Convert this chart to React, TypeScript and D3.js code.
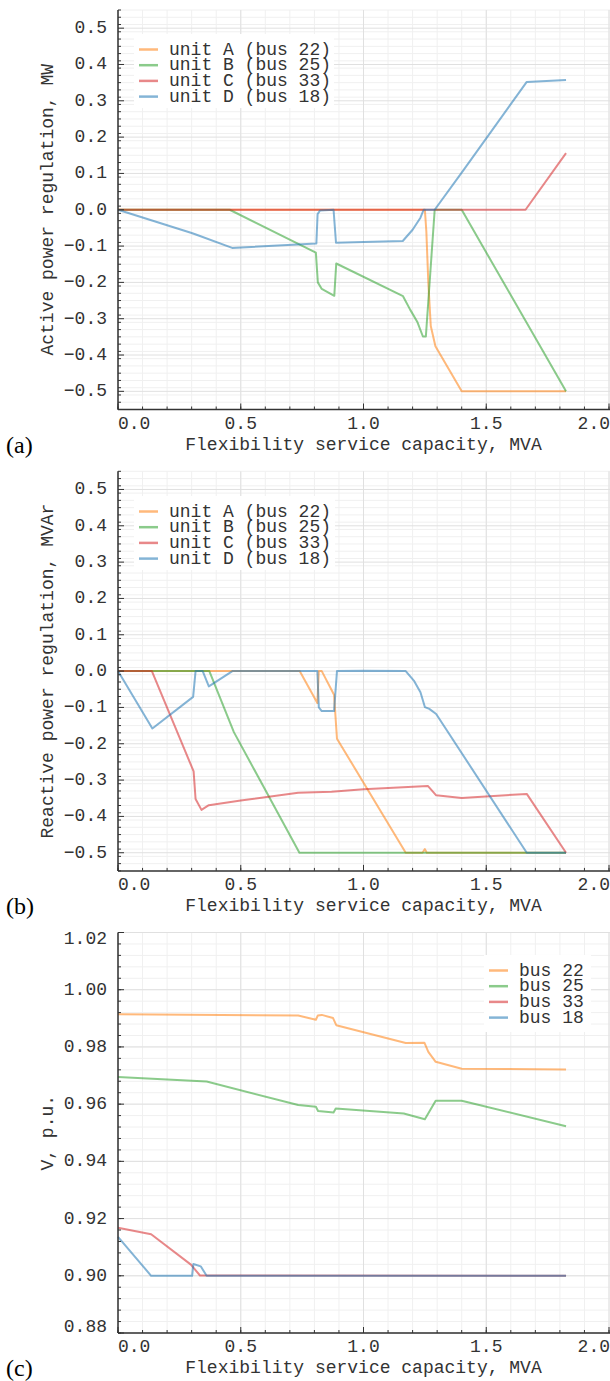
import React from 'react';
import * as d3 from 'd3';

const W = 610;
const H = 1381;
const MONO = "'Liberation Mono', 'Courier New', monospace";
const SERIF = "'Liberation Serif', 'Times New Roman', serif";

// series colours: unit A / bus 22, unit B / bus 25, unit C / bus 33, unit D / bus 18
const seriesColors = ['#ff7f0e', '#2ca02c', '#d62728', '#1f77b4'];

const xTicks = [0, 0.5, 1.0, 1.5, 2.0];
const pqTicks = [-0.5, -0.4, -0.3, -0.2, -0.1, 0, 0.1, 0.2, 0.3, 0.4, 0.5];
const vTicks = [0.88, 0.9, 0.92, 0.94, 0.96, 0.98, 1.0, 1.02];

const unitNames = ['unit A (bus 22)', 'unit B (bus 25)', 'unit C (bus 33)', 'unit D (bus 18)'];
const busNames = ['bus 22', 'bus 25', 'bus 33', 'bus 18'];

// (a) active power regulation, MW
const activeA = [[0, 0], [1.25, 0], [1.256, -0.06], [1.264, -0.2], [1.274, -0.32], [1.293, -0.376], [1.4, -0.5], [1.825, -0.5]];
const activeB = [[0, 0], [0.455, 0], [0.806, -0.118], [0.814, -0.2], [0.83, -0.218], [0.881, -0.237], [0.889, -0.148],
  [1.161, -0.238], [1.19, -0.275], [1.22, -0.31], [1.242, -0.349], [1.254, -0.349], [1.29, 0], [1.4, 0], [1.825, -0.5]];
const activeC = [[0, 0], [1.66, 0], [1.825, 0.156]];
const activeD = [[0, 0], [0.3, -0.064], [0.32, -0.069], [0.465, -0.105], [0.808, -0.093], [0.813, -0.012], [0.823, -0.002],
  [0.878, 0], [0.888, -0.091], [1.0, -0.089], [1.16, -0.086], [1.2, -0.055], [1.232, -0.022], [1.245, 0], [1.29, 0],
  [1.4, 0.102], [1.665, 0.352], [1.825, 0.357]];

// (b) reactive power regulation, MVAr
const reactiveA = [[0, 0], [0.74, 0], [0.812, -0.088], [0.818, 0], [0.83, 0], [0.88, -0.065], [0.892, -0.186],
  [1.172, -0.5], [1.24, -0.5], [1.25, -0.49], [1.258, -0.5], [1.825, -0.5]];
const reactiveB = [[0, 0], [0.372, 0], [0.472, -0.168], [0.739, -0.5], [1.825, -0.5]];
const reactiveC = [[0, 0], [0.138, 0], [0.308, -0.276], [0.316, -0.352], [0.34, -0.382], [0.37, -0.369], [0.5, -0.356],
  [0.734, -0.335], [0.87, -0.332], [1.0, -0.325], [1.262, -0.316], [1.296, -0.342], [1.4, -0.349], [1.665, -0.338],
  [1.825, -0.5]];
const reactiveD = [[0, 0], [0.14, -0.158], [0.306, -0.071], [0.316, 0], [0.345, 0], [0.37, -0.042], [0.466, 0],
  [0.812, 0], [0.818, -0.1], [0.83, -0.11], [0.88, -0.11], [0.892, 0], [1.0, 0.001], [1.172, 0], [1.205, -0.026],
  [1.232, -0.058], [1.25, -0.099], [1.268, -0.104], [1.296, -0.118], [1.665, -0.5], [1.825, -0.5]];

// (c) bus voltage, p.u.
const voltage22 = [[0, 0.9914], [0.734, 0.991], [0.806, 0.9895], [0.814, 0.991], [0.83, 0.9912], [0.876, 0.9901],
  [0.889, 0.9876], [1.172, 0.9814], [1.248, 0.9815], [1.264, 0.9783], [1.294, 0.9748], [1.4, 0.9724], [1.825, 0.9721]];
const voltage25 = [[0, 0.9695], [0.361, 0.9679], [0.734, 0.9597], [0.806, 0.9591], [0.815, 0.9576], [0.878, 0.9571],
  [0.887, 0.9585], [1.164, 0.9567], [1.25, 0.9547], [1.294, 0.9612], [1.4, 0.9612], [1.825, 0.9523]];
const voltage33 = [[0, 0.9168], [0.135, 0.9145], [0.297, 0.9039], [0.334, 0.9001], [1.825, 0.9]];
const voltage18 = [[0, 0.9136], [0.135, 0.9], [0.302, 0.9], [0.307, 0.9041], [0.337, 0.9033], [0.361, 0.9], [1.825, 0.9]];

const panels = [
  {
    tag: '(a)', yTitle: 'Active power regulation, MW', top: 10, bottom: 409.5,
    domain: [-0.55, 0.55], ticks: pqTicks, minorStep: 0.02, fmt: '.1f',
    series: [activeA, activeB, activeC, activeD], names: unitNames,
    legend: { x: 134, y: 34, w: 200, h: 74 },
  },
  {
    tag: '(b)', yTitle: 'Reactive power regulation, MVAr', top: 471.3, bottom: 870.9,
    domain: [-0.55, 0.55], ticks: pqTicks, minorStep: 0.02, fmt: '.1f',
    series: [reactiveA, reactiveB, reactiveC, reactiveD], names: unitNames,
    legend: { x: 134, y: 496, w: 201, h: 74 },
  },
  {
    tag: '(c)', yTitle: 'V, p.u.', top: 932.5, bottom: 1333,
    domain: [0.88, 1.02], ticks: vTicks, minorStep: 0.004, fmt: '.2f',
    series: [voltage22, voltage25, voltage33, voltage18], names: busNames,
    legend: { x: 484, y: 955, w: 107, h: 77 },
  },
];

const LEFT = 118;
const RIGHT = 609;
const FS = 18;

const x = d3.scaleLinear().domain([0, 2]).range([LEFT, RIGHT]);
const xMinor = d3.range(0, 2.0001, 0.1);

const Panel = ({ p }) => {
  const y = d3.scaleLinear().domain(p.domain).range([p.bottom, p.top]);
  const n = Math.round((p.domain[1] - p.domain[0]) / p.minorStep);
  const yMinor = d3.range(n + 1).map(i => p.domain[0] + i * p.minorStep);
  const line = d3.line().x(d => x(d[0])).y(d => y(d[1]));
  const fmt = d3.format(p.fmt);
  const cy = (p.top + p.bottom) / 2;
  const rowGap = 15.7;

  return (
    <g>
      {/* minor grid */}
      {xMinor.map((v, i) => (
        <line key={'xm' + i} x1={x(v)} x2={x(v)} y1={p.top} y2={p.bottom} stroke="#f0f0f0" strokeWidth={1} />
      ))}
      {yMinor.map((v, i) => (
        <line key={'ym' + i} x1={LEFT} x2={W} y1={y(v)} y2={y(v)} stroke="#f0f0f0" strokeWidth={1} />
      ))}
      {/* major grid */}
      {xTicks.map((v, i) => (
        <line key={'xg' + i} x1={x(v)} x2={x(v)} y1={p.top} y2={p.bottom} stroke="#e0e0e0" strokeWidth={1} />
      ))}
      {p.ticks.map((v, i) => (
        <line key={'yg' + i} x1={LEFT} x2={W} y1={y(v)} y2={y(v)} stroke="#e0e0e0" strokeWidth={1} />
      ))}

      {/* legend box */}
      <rect x={p.legend.x} y={p.legend.y} width={p.legend.w} height={p.legend.h} fill="#fff" />

      {/* data */}
      {p.series.map((s, i) => (
        <path key={'s' + i} d={line(s)} fill="none" stroke={seriesColors[i]} strokeOpacity={0.55}
          strokeWidth={2} strokeLinejoin="round" />
      ))}

      {/* legend entries */}
      {p.names.map((name, i) => {
        const ry = p.legend.y + 15.5 + i * rowGap;
        return (
          <g key={'l' + i}>
            <line x1={p.legend.x + 5} x2={p.legend.x + 24} y1={ry} y2={ry} stroke={seriesColors[i]}
              strokeOpacity={0.55} strokeWidth={2.5} />
            <text x={p.legend.x + 35} y={ry} dominantBaseline="central" fontFamily={MONO} fontSize={FS} fill="#333">
              {name}
            </text>
          </g>
        );
      })}

      {/* axes */}
      <line x1={LEFT} x2={LEFT} y1={p.top} y2={p.bottom} stroke="#333" strokeWidth={1.5} />
      <line x1={LEFT} x2={W} y1={p.bottom} y2={p.bottom} stroke="#333" strokeWidth={1.5} />
      {yMinor.map((v, i) => (
        <line key={'ytm' + i} x1={LEFT} x2={LEFT + 3} y1={y(v)} y2={y(v)} stroke="#333" strokeWidth={1} />
      ))}
      {p.ticks.map((v, i) => (
        <line key={'ytM' + i} x1={LEFT} x2={LEFT + 6} y1={y(v)} y2={y(v)} stroke="#333" strokeWidth={1} />
      ))}
      {xMinor.map((v, i) => (
        <line key={'xtm' + i} x1={x(v)} x2={x(v)} y1={p.bottom} y2={p.bottom - 3} stroke="#333" strokeWidth={1} />
      ))}
      {xTicks.map((v, i) => (
        <line key={'xtM' + i} x1={x(v)} x2={x(v)} y1={p.bottom} y2={p.bottom - 6} stroke="#333" strokeWidth={1} />
      ))}

      {/* tick labels, edge labels pulled inside the axis span */}
      {p.ticks.map((v, i) => {
        const ty = Math.max(p.top + 6, Math.min(p.bottom - 6, y(v)));
        return (
          <text key={'yl' + i} x={107} y={ty} textAnchor="end" dominantBaseline="central"
            fontFamily={MONO} fontSize={FS} fill="#333">{fmt(v)}</text>
        );
      })}
      {xTicks.map((v, i) => {
        const label = d3.format('.1f')(v);
        const half = label.length * FS * 0.3;
        const tx = Math.max(LEFT + half, Math.min(W - half, x(v)));
        return (
          <text key={'xl' + i} x={tx} y={p.bottom + 19} textAnchor="middle"
            fontFamily={MONO} fontSize={FS} fill="#333">{label}</text>
        );
      })}

      {/* titles */}
      <text x={(LEFT + RIGHT) / 2} y={p.bottom + 40} textAnchor="middle" fontFamily={MONO} fontSize={FS} fill="#333">
        Flexibility service capacity, MVA
      </text>
      <text transform={`translate(48,${cy}) rotate(-90)`} textAnchor="middle" dominantBaseline="central"
        fontFamily={MONO} fontSize={FS} fill="#333">{p.yTitle}</text>
      <text x={6} y={p.bottom + 43} fontFamily={SERIF} fontSize={24} fill="#000">{p.tag}</text>
    </g>
  );
};

export default function App() {
  return (
    <svg width={W} height={H} viewBox={`0 0 ${W} ${H}`}
      style={{ position: 'absolute', left: 0, top: 0, display: 'block', background: '#fff' }}>
      <rect width={W} height={H} fill="#fff" />
      {panels.map((p, i) => <Panel key={i} p={p} />)}
    </svg>
  );
}
